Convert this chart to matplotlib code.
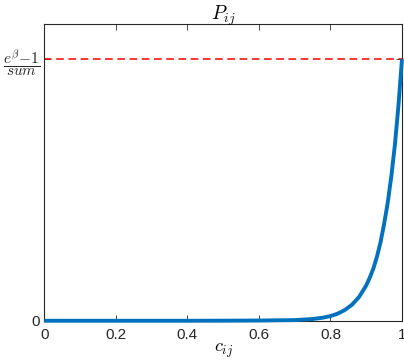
import matplotlib
matplotlib.use('Agg')
import matplotlib.pyplot as plt

# values
c_vals = [0.0, 0.1, 0.2, 0.3, 0.4, 0.5, 0.6, 0.65, 0.7, 0.75, 0.78, 0.8, 0.82,
          0.84, 0.86, 0.88, 0.9, 0.91, 0.92, 0.93, 0.94, 0.95, 0.96, 0.97,
          0.98, 0.99, 1.0]
p_vals = [0.0, 0.0, 0.0, 0.0, 0.0, 0.0003, 0.0009, 0.0018, 0.0025, 0.0067, 0.012,
          0.018, 0.027, 0.041, 0.061, 0.091, 0.135, 0.165, 0.20, 0.245, 0.30,
          0.37, 0.45, 0.55, 0.67, 0.82, 1.0]
level = 1.0
xticks = [0, 0.2, 0.4, 0.6, 0.8, 1]
xtick_labels = ['0', '0.2', '0.4', '0.6', '0.8', '1']
ytick_labels = ['0', r'$\dfrac{e^{\beta}\!-\!1}{sum}$']

plt.rcParams['font.family'] = ['Liberation Sans', 'DejaVu Sans']
plt.rcParams['mathtext.fontset'] = 'cm'

fig = plt.figure(figsize=(4.04, 3.6), dpi=100)
ax = fig.add_axes([0.1097, 0.109, 0.8853, 0.824])

ax.axhline(level, color='#FF0000', linestyle=(0, (5, 3)), linewidth=1.1)
ax.plot(c_vals, p_vals, color='#0072BD', linewidth=2.8, clip_on=False,
        solid_capstyle='butt', zorder=3)

ax.set_xlim(0, 1)
ax.set_ylim(0, 1.134)
ax.set_xticks(xticks)
ax.set_xticklabels(xtick_labels)
ax.set_yticks([0, level])
ax.set_yticklabels(ytick_labels)

for sp in ax.spines.values():
    sp.set_color('#262626')
    sp.set_linewidth(0.8)
ax.tick_params(direction='in', length=4, width=0.6, color='#262626',
               top=True, right=True, labelsize=11, labelcolor='#262626', pad=5)
ax.tick_params(axis='y', pad=3)
ax.get_yticklabels()[1].set_fontsize(11)

ax.set_title(r'$P_{ij}$', fontsize=14, pad=3)
ax.set_xlabel(r'$c_{ij}$', fontsize=13, labelpad=0)

fig.savefig('out.png', dpi=100)
